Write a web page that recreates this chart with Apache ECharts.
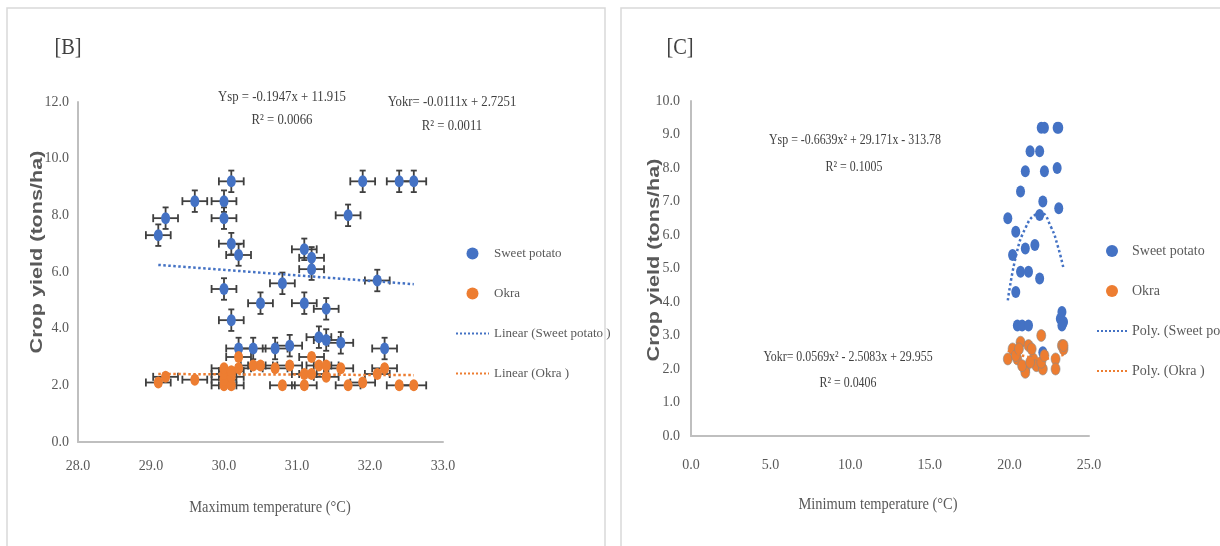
<!DOCTYPE html>
<html>
<head>
<meta charset="utf-8">
<script src="https://cdn.jsdelivr.net/npm/echarts@6/dist/echarts.min.js"></script>
<style>
  html, body { margin: 0; padding: 0; background: #fff; }
  #chart { width: 1220px; height: 546px; }
</style>
</head>
<body>
<div id="chart"></div>
<script>
// ---- panel B: yield vs maximum temperature ----
const sweetB = [
    [29.1, 7.3], [29.2, 7.9], [29.6, 8.5], [30.0, 8.5], [30.0, 7.9], [30.1, 9.2],
    [30.1, 7.0], [30.2, 6.6], [31.1, 6.8], [31.2, 6.5], [31.2, 6.1], [31.7, 8.0],
    [31.9, 9.2], [32.4, 9.2], [32.6, 9.2], [32.1, 5.7], [30.0, 5.4], [30.8, 5.6],
    [30.5, 4.9], [31.1, 4.9], [31.4, 4.7], [30.1, 4.3], [30.2, 3.3], [30.4, 3.3],
    [30.7, 3.3], [30.9, 3.4], [31.3, 3.7], [31.4, 3.6], [31.6, 3.5], [32.2, 3.3]
];
const okraB = [
    [29.1, 2.1], [29.2, 2.3], [29.6, 2.2], [30.0, 2.0], [30.0, 2.2], [30.0, 2.4],
    [30.0, 2.6], [30.1, 2.0], [30.1, 2.3], [30.1, 2.5], [30.2, 3.0], [30.2, 2.6],
    [30.4, 2.7], [30.5, 2.7], [30.7, 2.6], [30.9, 2.7], [30.8, 2.0], [31.1, 2.0],
    [31.1, 2.4], [31.2, 3.0], [31.2, 2.4], [31.3, 2.7], [31.4, 2.7], [31.4, 2.3],
    [31.6, 2.6], [31.7, 2.0], [31.9, 2.1], [32.1, 2.4], [32.2, 2.6], [32.4, 2.0],
    [32.6, 2.0]
];
// trend lines
const sweetTrendB = [[29.1, 6.25], [32.6, 5.57]];
const okraTrendB = [[29.1, 2.40], [32.6, 2.36]];

// ---- panel C: yield vs minimum temperature ----
const sweetC = [
    [22.0, 9.2], [22.2, 9.2], [23.0, 9.2], [23.1, 9.2], [21.3, 8.5], [21.9, 8.5],
    [21.0, 7.9], [22.2, 7.9], [23.0, 8.0], [20.7, 7.3], [22.1, 7.0], [23.1, 6.8],
    [21.9, 6.6], [19.9, 6.5], [20.4, 6.1], [20.2, 5.4], [21.0, 5.6], [21.6, 5.7],
    [20.7, 4.9], [21.2, 4.9], [21.9, 4.7], [20.4, 4.3], [20.5, 3.3], [20.8, 3.3],
    [21.2, 3.3], [23.2, 3.5], [23.3, 3.7], [23.4, 3.4], [23.3, 3.3], [22.1, 2.5]
];
const okraC = [
    [22.0, 3.0], [23.3, 2.7], [23.4, 2.6], [22.9, 2.3], [22.9, 2.0], [19.9, 2.3],
    [20.2, 2.6], [20.7, 2.8], [21.2, 2.7], [20.5, 2.3], [21.0, 2.0], [21.0, 1.9],
    [21.5, 2.3], [21.7, 2.1], [22.1, 2.0], [22.0, 2.2], [21.4, 2.6], [20.4, 2.4],
    [20.8, 2.1], [23.4, 2.7], [21.3, 2.2], [22.2, 2.4], [20.6, 2.6]
];
const sweetPolyC = [
    [19.9, 4.05], [20.45, 5.45], [21.0, 6.2], [21.6, 6.6], [22.0, 6.65],
    [22.6, 6.25], [23.05, 5.65], [23.4, 5.0]
];
const okraPolyC = [
    [19.9, 2.55], [20.5, 2.45], [21.0, 2.38], [22.0, 2.3], [23.0, 2.37], [23.4, 2.42]
];

const BLUE = '#4472C4';
const ORANGE = '#ED7D31';
const TXT = '#595959';
const SERIF = '"Liberation Serif", "Times New Roman", serif';

// error bar half-widths (x in degC, y in tons/ha)
const X_ERR = 0.17;

function errorBars(yErr) {
    return function (params, api) {
        const x = api.value(0), y = api.value(1);
        const l = api.coord([x - X_ERR, y]);
        const r = api.coord([x + X_ERR, y]);
        const t = api.coord([x, y + yErr]);
        const b = api.coord([x, y - yErr]);
        const st = { stroke: '#3f3f3f', lineWidth: 1.8 };
        const kids = [
            { type: 'line', shape: { x1: l[0], y1: l[1], x2: r[0], y2: r[1] }, style: st },
            { type: 'line', shape: { x1: l[0], y1: l[1] - 4, x2: l[0], y2: l[1] + 4 }, style: st },
            { type: 'line', shape: { x1: r[0], y1: r[1] - 4, x2: r[0], y2: r[1] + 4 }, style: st }
        ];
        if (yErr > 0) {
            kids.push(
                { type: 'line', shape: { x1: t[0], y1: t[1], x2: b[0], y2: b[1] }, style: st },
                { type: 'line', shape: { x1: t[0] - 3, y1: t[1], x2: t[0] + 3, y2: t[1] }, style: st },
                { type: 'line', shape: { x1: b[0] - 3, y1: b[1], x2: b[0] + 3, y2: b[1] }, style: st }
            );
        }
        return { type: 'group', children: kids };
    };
}

function txt(text, x, y, size, fill) {
    return {
        type: 'text', x: x, y: y, scaleX: 0.85, silent: true,
        style: {
            text: text, fill: fill || '#404040', font: size + 'px ' + SERIF,
            align: 'center', verticalAlign: 'middle'
        }
    };
}

function yTitle(x, y) {
    return {
        type: 'text', x: x, y: y, rotation: Math.PI / 2, scaleX: 1.35, silent: true,
        style: {
            text: 'Crop yield (tons/ha)', fill: TXT,
            font: 'bold 16px "Liberation Sans", Arial, sans-serif',
            align: 'center', verticalAlign: 'middle'
        }
    };
}

const axisLine = { show: true, lineStyle: { color: '#bfbfbf', width: 2 } };
const tickLabel = (margin) => ({
    color: TXT, fontFamily: SERIF, fontSize: 14, margin: margin,
    formatter: (v) => v.toFixed(1)
});
// line legend entries: keep the dotted stroke, hide the symbol
const lineEntry = (name) => ({ name: name, itemStyle: { opacity: 0 } });

const option = {
    animation: false,
    backgroundColor: '#fff',
    grid: [
        { left: 78, top: 102, width: 365, height: 340 },
        { left: 691, top: 101, width: 398, height: 335 }
    ],
    xAxis: [
        {
            gridIndex: 0, type: 'value', min: 28, max: 33, interval: 1,
            axisLine: axisLine, axisTick: { show: false }, splitLine: { show: false },
            axisLabel: tickLabel(17)
        },
        {
            gridIndex: 1, type: 'value', min: 0, max: 25, interval: 5,
            axisLine: axisLine, axisTick: { show: false }, splitLine: { show: false },
            axisLabel: tickLabel(22)
        }
    ],
    yAxis: [
        {
            gridIndex: 0, type: 'value', min: 0, max: 12, interval: 2,
            axisLine: axisLine, axisTick: { show: false }, splitLine: { show: false },
            axisLabel: tickLabel(9)
        },
        {
            gridIndex: 1, type: 'value', min: 0, max: 10, interval: 1,
            axisLine: axisLine, axisTick: { show: false }, splitLine: { show: false },
            axisLabel: tickLabel(11)
        }
    ],
    legend: [
        {
            orient: 'vertical', left: 450, top: 242, itemGap: 27,
            itemWidth: 33, itemHeight: 12,
            textStyle: { color: TXT, fontFamily: SERIF, fontSize: 13 },
            data: [
                { name: 'Sweet potato', icon: 'circle' },
                { name: 'Okra', icon: 'circle' },
                lineEntry('Linear (Sweet potato )'),
                lineEntry('Linear (Okra )')
            ]
        },
        {
            orient: 'vertical', left: 1091, top: 239, itemGap: 26,
            itemWidth: 30, itemHeight: 12,
            textStyle: { color: TXT, fontFamily: SERIF, fontSize: 14 },
            data: [
                { name: 'Sweet potato', icon: 'circle' },
                { name: 'Okra', icon: 'circle' },
                lineEntry('Poly. (Sweet potato )'),
                lineEntry('Poly. (Okra )')
            ]
        }
    ],
    graphic: [
        { type: 'rect', shape: { x: 7, y: 8, width: 598, height: 560 },
          style: { fill: 'none', stroke: '#d9d9d9', lineWidth: 1.5 }, silent: true },
        { type: 'rect', shape: { x: 621, y: 8, width: 620, height: 560 },
          style: { fill: 'none', stroke: '#d9d9d9', lineWidth: 1.5 }, silent: true },
        txt('[B]', 68, 48, 24),
        txt('[C]', 680, 48, 24),
        txt('Ysp = -0.1947x + 11.915', 282, 97, 15),
        txt('R\u00b2 = 0.0066', 282, 120, 15),
        txt('Yokr= -0.0111x + 2.7251', 452, 102, 15),
        txt('R\u00b2 = 0.0011', 452, 126, 15),
        txt('Ysp = -0.6639x\u00b2 + 29.171x - 313.78', 855, 140, 14),
        txt('R\u00b2 = 0.1005', 854, 167, 14),
        txt('Yokr= 0.0569x\u00b2 - 2.5083x + 29.955', 848, 357, 14),
        txt('R\u00b2 = 0.0406', 848, 383, 14),
        txt('Maximum temperature (\u00b0C)', 270, 508, 17, TXT),
        txt('Minimum temperature (\u00b0C)', 878, 505, 17, TXT),
        yTitle(38, 252),
        yTitle(655, 260)
    ],
    series: [
        // panel B error bars
        { name: 'errSweetB', type: 'custom', xAxisIndex: 0, yAxisIndex: 0,
          renderItem: errorBars(0.38), data: sweetB, z: 1, silent: true },
        { name: 'errOkraB', type: 'custom', xAxisIndex: 0, yAxisIndex: 0,
          renderItem: errorBars(0.12), data: okraB, z: 1, silent: true },
        // panel B trend lines
        { name: 'Linear (Sweet potato )', type: 'line', xAxisIndex: 0, yAxisIndex: 0,
          data: sweetTrendB, symbol: 'none', z: 2, color: BLUE,
          lineStyle: { color: BLUE, width: 2.5, type: 'dotted' } },
        { name: 'Linear (Okra )', type: 'line', xAxisIndex: 0, yAxisIndex: 0,
          data: okraTrendB, symbol: 'none', z: 2, color: ORANGE,
          lineStyle: { color: ORANGE, width: 2.5, type: 'dotted' } },
        // panel B points
        { name: 'Sweet potato', type: 'scatter', xAxisIndex: 0, yAxisIndex: 0,
          data: sweetB, symbolSize: [9, 12], z: 3, itemStyle: { color: BLUE, opacity: 1 } },
        { name: 'Okra', type: 'scatter', xAxisIndex: 0, yAxisIndex: 0,
          data: okraB, symbolSize: [9, 12], z: 3, itemStyle: { color: ORANGE, opacity: 1 } },
        // panel C
        { name: 'Poly. (Sweet potato )', type: 'line', xAxisIndex: 1, yAxisIndex: 1,
          data: sweetPolyC, smooth: true, symbol: 'none', z: 4, color: BLUE,
          lineStyle: { color: BLUE, width: 2.5, type: 'dotted' } },
        { name: 'Poly. (Okra )', type: 'line', xAxisIndex: 1, yAxisIndex: 1,
          data: okraPolyC, smooth: true, symbol: 'none', z: 4, color: ORANGE,
          lineStyle: { color: ORANGE, width: 2.5, type: 'dotted' } },
        { name: 'Sweet potato', type: 'scatter', xAxisIndex: 1, yAxisIndex: 1,
          data: sweetC, symbolSize: [9, 12], z: 3, itemStyle: { color: BLUE, opacity: 1 } },
        { name: 'Okra', type: 'scatter', xAxisIndex: 1, yAxisIndex: 1,
          data: okraC, symbolSize: [9, 12], z: 3,
          itemStyle: { color: ORANGE, opacity: 1, borderColor: '#8a8a8a', borderWidth: 0.6 } }
    ]
};

const chart = echarts.init(document.getElementById('chart'), null, { renderer: 'canvas' });
chart.setOption(option);
</script>
</body>
</html>
